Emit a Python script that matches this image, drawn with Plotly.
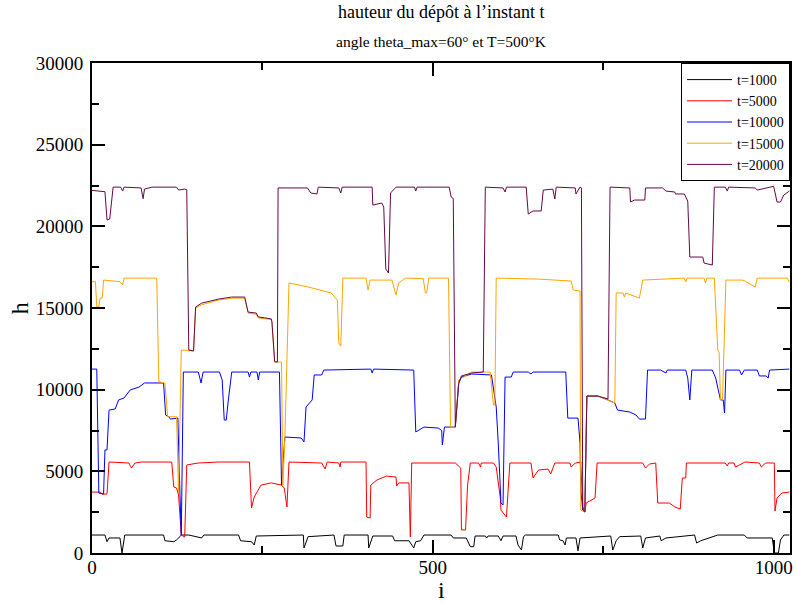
import plotly.graph_objects as go

# ---- data: (i, h) breakpoints ----
t1000_i = [0,19,22,25,41,44,47,48,105,107,120,124,129,131,142,161,164,215,218,234,238,241,310,311,317,355,358,368,370,405,406,412,441,444,465,469,472,475,482,487,527,530,549,555,560,562,577,579,581,596,600,603,622,625,630,633,636,684,686,691,694,696,710,713,716,761,764,769,774,805,808,812,833,835,842,884,887,893,913,918,957,961,998,1001,1007,1010,1015,1023]
t1000_h = [1100,1100,690,920,920,0,800,1100,1100,750,690,800,1000,1100,1100,920,1100,1100,750,690,490,1040,1100,310,1000,1100,430,430,1100,1100,310,1040,1040,750,750,490,310,690,750,1100,1100,920,920,390,390,1040,1040,920,1040,1040,750,1040,1040,490,180,1000,1100,1100,800,750,490,920,920,140,920,1040,180,750,1000,1040,310,920,1040,750,920,1100,610,750,1000,1100,1100,920,920,0,0,800,1100,1100]

t5000_i = [0,12,15,22,25,54,58,63,73,117,120,124,127,131,136,139,156,186,231,234,238,248,263,278,282,286,289,337,342,345,362,364,365,402,403,408,409,418,432,446,447,450,465,467,469,486,508,533,541,542,548,551,555,567,570,571,589,593,599,600,608,613,644,647,655,669,673,679,701,703,709,717,720,723,725,738,741,808,812,818,827,830,847,855,863,866,871,872,929,932,934,942,944,958,979,982,988,1001,1002,1005,1012,1023]
t5000_h = [3730,3730,3610,3610,5570,5510,5200,5510,5570,5570,4040,3980,3550,1100,980,5390,5510,5570,5570,2750,3430,4160,4290,4160,3980,2820,5570,5510,5140,5570,5510,5260,5570,5570,2200,2140,4160,4470,4710,4650,4100,4290,4290,980,5510,5510,5510,5510,5200,1410,1410,4160,5510,5510,5260,5510,5510,5260,3370,2630,2200,5510,5510,4590,5080,5140,4840,5510,5510,5260,5510,5570,2820,2510,3060,3370,5510,5510,5200,5450,5510,3060,3060,2820,2690,4590,4590,5510,5510,5330,5510,5510,5260,5570,5510,5260,5510,5510,2570,3370,3670,3730]

t10000_i = [0,7,10,17,19,22,25,34,39,47,56,69,77,105,108,113,115,126,129,131,134,156,160,163,187,191,194,197,200,205,229,231,233,242,244,246,275,278,283,307,311,314,323,326,337,340,409,411,413,472,475,487,508,513,514,517,533,538,542,557,586,593,596,600,603,606,615,618,640,644,647,695,698,713,716,717,720,723,726,742,757,767,771,789,798,803,812,815,834,842,844,871,874,877,880,910,915,918,922,926,928,930,950,953,957,976,979,989,992,994,1023]
t10000_h = [11260,11260,3670,3610,6310,6310,8750,8820,9370,9490,9980,10160,10410,10410,8450,8330,8200,8260,3670,1100,11080,11080,10410,11080,11080,10590,8140,8140,9370,11080,11080,10770,11080,11080,10590,11080,11080,4160,7100,7040,6800,8940,9370,10900,10900,11200,11260,11020,11260,11200,7410,7710,7650,7500,6610,7710,7710,10410,10770,10960,10900,8940,6730,3060,2940,10770,10770,11080,11080,10960,11080,11080,8260,8260,6730,3860,2630,2510,9610,9610,9370,9180,8750,8630,8450,8200,8200,11200,11200,11020,11200,11200,10710,9370,11200,11200,10710,10100,9370,9370,8570,11200,11200,10900,11200,11200,10840,10840,10710,11200,11260]

t15000_i = [0,5,7,10,12,15,17,41,45,47,95,98,107,111,124,127,131,149,152,161,186,205,224,229,241,244,263,264,268,278,280,283,289,316,351,360,362,365,368,402,405,408,440,446,450,460,486,489,491,494,523,526,533,538,557,584,589,591,593,655,703,706,716,717,723,726,742,757,767,769,779,781,783,803,808,869,871,873,898,900,902,913,918,920,922,925,928,930,954,958,973,976,1020,1023]
t15000_h = [16610,16610,15080,15080,15610,15610,16710,16610,16410,16830,16830,10490,10400,8340,8340,3670,12430,12370,14990,15200,15490,15600,15600,14690,14620,14390,14300,14080,11690,11690,4160,7120,16530,16300,15920,15490,12860,12670,16830,16830,16100,16710,16710,15800,16530,16830,16800,15920,15920,16830,16830,7710,7710,10590,11080,11080,9060,9060,16830,16770,16650,16100,16040,2630,2510,9610,9610,9370,9180,15920,15920,15670,15920,15610,16710,16830,16590,16830,16830,16530,16830,16830,12430,12300,9370,9370,13650,16710,16710,16650,16280,16830,16830,16590]

t20000_i = [0,19,22,26,31,42,45,47,72,75,77,88,124,127,136,139,142,149,152,161,186,205,224,229,241,244,253,263,264,268,272,273,316,321,330,332,362,365,367,411,412,425,428,431,435,438,446,473,475,477,524,527,530,533,538,542,557,574,577,603,606,608,637,640,647,659,662,676,679,681,709,710,716,718,720,723,726,742,757,760,789,790,796,811,812,837,842,855,856,869,874,877,896,898,910,913,929,932,934,973,976,1000,1005,1010,1015,1023]
t20000_h = [22200,22120,20390,20450,22400,22400,22160,22400,22350,21690,22280,22400,22400,22220,22280,22250,12430,12370,15060,15300,15550,15670,15670,14750,14690,14450,14400,14330,14160,11710,11690,22350,22350,22040,21980,22400,22350,22040,22400,22400,21300,21430,21180,17390,17140,22040,22400,22400,22160,22400,22400,21790,21700,7710,10400,10840,11020,11080,22400,22350,22100,22400,22400,20750,20940,20940,22220,22280,21670,22400,22350,21980,22400,22350,2630,2510,9610,9610,9430,22400,22350,21490,21610,21610,22350,22350,22160,22100,21980,21980,21550,18120,18120,17750,17630,22400,22400,22160,22400,22350,22220,22450,21490,21490,21920,22160]

series_names = ["t=1000", "t=5000", "t=10000", "t=15000", "t=20000"]
series_i = [t1000_i, t5000_i, t10000_i, t15000_i, t20000_i]
series_h = [t1000_h, t5000_h, t10000_h, t15000_h, t20000_h]
series_colors = ["#000000", "#ff0000", "#0000ff", "#ffa500", "#670748"]

title_text = "hauteur du dépôt à l’instant t"
subtitle_text = "angle theta_max=60° et T=500°K"
x_label = "i"
y_label = "h"

FONT = "Liberation Serif"

fig = go.Figure()
for name, xs, ys, c in zip(series_names, series_i, series_h, series_colors):
    fig.add_trace(go.Scatter(x=xs, y=ys, mode="lines", name=name,
                             line=dict(color=c, width=1)))

axis_common = dict(
    showline=True, linecolor="black", linewidth=2, mirror="ticks",
    ticks="inside", ticklen=13, tickwidth=1.5, tickcolor="black",
    showgrid=False, zeroline=False, tickformat="d",
    tickfont=dict(family=FONT, size=19, color="black"),
)

fig.update_xaxes(range=[0, 1024], tickmode="linear", tick0=0, dtick=500,
                 minor=dict(ticks="inside", ticklen=7, dtick=250, tickcolor="black", tickwidth=1.5),
                 ticklabelstandoff=-4, **axis_common)
fig.update_yaxes(range=[0, 30000], tickmode="linear", tick0=0, dtick=5000,
                 minor=dict(ticks="inside", ticklen=7, dtick=2500, tickcolor="black", tickwidth=1.5),
                 ticklabelstandoff=3, **axis_common)

fig.update_layout(
    width=796, height=605,
    margin=dict(l=92, r=3, t=63, b=52),
    paper_bgcolor="white", plot_bgcolor="white",
    font=dict(family=FONT, color="black"),
    showlegend=True,
    legend=dict(x=1, y=1, xanchor="right", yanchor="top",
                bordercolor="black", borderwidth=1, bgcolor="white",
                font=dict(family=FONT, size=14, color="black"),
                tracegroupgap=0, itemwidth=45),
    annotations=[
        dict(text=title_text, xref="paper", yref="paper", x=0.5, y=(553-12)/490,
             xanchor="center", yanchor="middle", showarrow=False,
             font=dict(family=FONT, size=18, color="black")),
        dict(text=subtitle_text, xref="paper", yref="paper", x=0.5, y=(553-42)/490,
             xanchor="center", yanchor="middle", showarrow=False,
             font=dict(family=FONT, size=15.5, color="black")),
        dict(text=x_label, xref="paper", yref="paper", x=0.5, y=(553-590)/490,
             xanchor="center", yanchor="middle", showarrow=False,
             font=dict(family=FONT, size=24, color="black")),
        dict(text=y_label, xref="paper", yref="paper", x=(20-92)/701, y=0.5,
             xanchor="center", yanchor="middle", showarrow=False, textangle=-90,
             font=dict(family=FONT, size=24, color="black")),
    ],
)

fig.write_html("out.html", config={"displayModeBar": False},
               post_script="document.body.style.margin='0px';")
